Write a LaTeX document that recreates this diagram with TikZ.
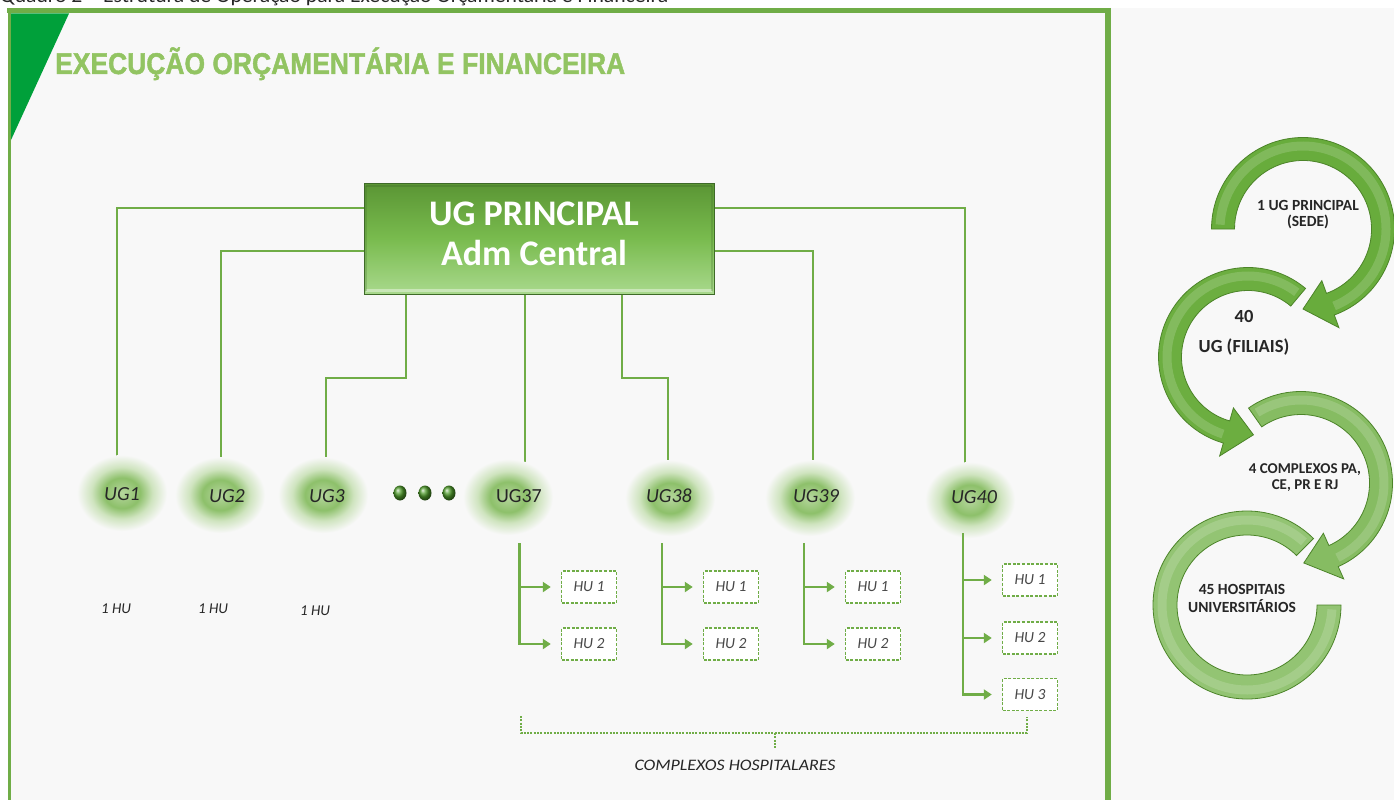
\documentclass[tikz,border=0pt]{standalone}
\usepackage{fontspec}
\setmainfont{Carlito}
\newfontfamily\titlefont[FakeBold=1.6]{Liberation Sans}
\usepackage{graphicx}
\usetikzlibrary{arrows.meta}
\definecolor{bgc}{HTML}{F8F8F8}
\definecolor{lg}{HTML}{70AD47}
\definecolor{trig}{HTML}{00A03A}
\definecolor{ttl}{HTML}{92C462}
\definecolor{txg}{HTML}{262626}
\definecolor{glowC}{HTML}{B6D69E}
\definecolor{glowM}{HTML}{8DC06A}
\definecolor{glowE}{HTML}{CFE4BF}
\definecolor{boxT}{HTML}{5A9534}
\definecolor{boxM}{HTML}{79BB4E}
\definecolor{boxB}{HTML}{A9D98D}
\definecolor{boxL}{HTML}{3E6A28}
\definecolor{dotg}{HTML}{4E9A2A}
\definecolor{arcA}{HTML}{68AC3C}
\definecolor{arcB}{HTML}{6CAE40}
\definecolor{arcC}{HTML}{86BC62}
\definecolor{arcD}{HTML}{93C473}
\definecolor{arcO}{HTML}{4C8429}
\pgfdeclareradialshading{glow}{\pgfpointorigin}{color(0bp)=(glowC); color(10bp)=(glowM); color(17bp)=(glowE); color(25bp)=(bgc); color(50bp)=(bgc)}
\begin{document}
\begin{tikzpicture}[x=1pt,y=-1pt,
  conn/.style={draw=lg, line width=2.8pt},
  arr/.style={draw=lg, line width=2.5pt, -{Triangle[length=8pt,width=10pt]}},
  dotline/.style={draw=lg, line width=2.6pt, dash pattern=on 2pt off 1.3pt},
  uglab/.style={anchor=base, inner sep=0, text=txg, font=\fontsize{20}{20}\selectfont\itshape},
  hulab/.style={anchor=base, inner sep=0, text=txg, font=\fontsize{15}{15}\selectfont\itshape},
  hubox/.style={draw=lg, fill=white, dash pattern=on 3pt off 1.6pt, line width=1.4pt, minimum width=55pt, minimum height=32pt, inner sep=0, text=txg!85!white, font=\fontsize{15.5}{15}\selectfont\itshape},
  mainbox/.style={draw=boxL, line width=1pt, top color=boxT, bottom color=boxB, middle color=boxM, minimum width=350pt, minimum height=111pt, inner sep=0},
  ringtxt/.style={align=center, inner sep=0, text=txg, font=\fontsize{15}{16}\selectfont\bfseries},
  ringout/.style={draw=arcO, line width=0.8pt},
  hilite/.style={draw=white, opacity=0.16, line width=9pt}
]
\useasboundingbox (0,0) rectangle (1394,800);
% background
\fill[bgc] (9,8) rectangle (1394,800);
% caption (cut off at top, as in the source)
\node[anchor=base west, inner sep=0, text=txg] (caption) at (0,3) {\resizebox{668pt}{\height}{\fontsize{20}{24}\selectfont Quadro 2 -- Estrutura de Operação para Execução Orçamentária e Financeira}};
% frame
\draw[lg, line width=3pt] (9.5,9) -- (9.5,800);
\draw[lg, line width=5pt] (7,11) -- (1110.5,11);
\draw[lg, line width=6pt] (1107.5,8) -- (1107.5,800);
\fill[trig] (11,13.5) -- (69,13.5) -- (11,140) -- cycle;
% title
\node[anchor=base west, inner sep=0, text=ttl] (title) at (55,74) {\resizebox{570pt}{\height}{\titlefont\bfseries\fontsize{30}{32}\selectfont EXECUÇÃO ORÇAMENTÁRIA E FINANCEIRA}};

% main box
\node[mainbox] (main) at (539,238.5) {};
\draw[white, opacity=0.4, line width=3pt] (366,290) -- (712,290);
\draw[boxL, opacity=0.35, line width=2.5pt] (366,186) -- (712,186);
\draw[boxL, opacity=0.25, line width=2.5pt] (366,186) -- (366,291);
\draw[boxL, opacity=0.25, line width=2.5pt] (712,186) -- (712,291);
\node[inner sep=0, text=white, align=center, font=\fontsize{36}{40}\selectfont\bfseries, anchor=base] (maintxt) at (534,265) {UG PRINCIPAL\\Adm Central};

% connector end points
\coordinate (c1) at (117,460);
\coordinate (c2) at (221,464);
\coordinate (c3) at (326,464);
\coordinate (c37) at (525,462);
\coordinate (c38) at (668,462);
\coordinate (c39) at (813,462);
\coordinate (c40) at (965,463);
\draw[conn] (main.west |- 0,208) -| (c1);
\draw[conn] (main.west |- 0,251) -| (c2);
\draw[conn] (main.south -| 406,0) -- (406,378) -| (c3);
\draw[conn] (main.south -| c37) -- (c37);
\draw[conn] (main.south -| 622,0) -- (622,378) -| (c38);
\draw[conn] (main.east |- 0,251) -| (c39);
\draw[conn] (main.east |- 0,208) -| (c40);

% glows
\foreach \gx/\gy in {122/493, 220/495, 323/495, 508/497, 670/498, 810/498, 970/500}
  \shade[shading=glow] (\gx,\gy) ellipse [x radius=45, y radius=38];

% UG labels
\node[uglab] (ug1) at (122,500) {UG1};
\node[uglab] (ug2) at (227,502) {UG2};
\node[uglab] (ug3) at (327,502) {UG3};
\node[uglab, font=\fontsize{20}{20}\selectfont] (ug37) at (519,502) {UG37};
\node[uglab] (ug38) at (669,502) {UG38};
\node[uglab] (ug39) at (816,502) {UG39};
\node[uglab] (ug40) at (974,503) {UG40};

% dots
\foreach \dx in {400,425,449}
  \shade[ball color=dotg] (\dx,493) ellipse [x radius=6.5, y radius=7.5];

% 1 HU
\node[hulab] (hu1) at (116,613) {1 HU};
\node[hulab] (hu2) at (213,613) {1 HU};
\node[hulab] (hu3) at (315,615) {1 HU};

% HU boxes
\node[hubox] (b37a) at (589,587) {HU 1};
\node[hubox] (b37b) at (589,644) {HU 2};
\node[hubox] (b38a) at (731,587) {HU 1};
\node[hubox] (b38b) at (731,644) {HU 2};
\node[hubox] (b39a) at (873,587) {HU 1};
\node[hubox] (b39b) at (873,644) {HU 2};
\node[hubox] (b40a) at (1030,580) {HU 1};
\node[hubox] (b40b) at (1030,638) {HU 2};
\node[hubox] (b40c) at (1030,694.5) {HU 3};

\coordinate (v37) at (519.5,543);
\coordinate (v38) at (662,543);
\coordinate (v39) at (804,543);
\coordinate (v40) at (963,533);
\draw[arr] (v37) |- ([xshift=-10pt]b37b.west);
\draw[arr] (v37 |- b37a) -- ([xshift=-10pt]b37a.west);
\draw[arr] (v38) |- ([xshift=-10pt]b38b.west);
\draw[arr] (v38 |- b38a) -- ([xshift=-10pt]b38a.west);
\draw[arr] (v39) |- ([xshift=-10pt]b39b.west);
\draw[arr] (v39 |- b39a) -- ([xshift=-10pt]b39a.west);
\draw[arr] (v40) |- ([xshift=-10pt]b40c.west);
\draw[arr] (v40 |- b40a) -- ([xshift=-10pt]b40a.west);
\draw[arr] (v40 |- b40b) -- ([xshift=-10pt]b40b.west);

% bracket
\coordinate (brL) at (521,716);
\coordinate (brR) at (1027,717);
\coordinate (brM) at (775,733);
\node[anchor=base, inner sep=0, text=txg] (cplx) at (735,770) {\resizebox{201pt}{\height}{\fontsize{16}{16}\selectfont\itshape COMPLEXOS HOSPITALARES}};
\draw[dotline] (brL) -- (521,733) -- (1027,733) -- (brR);
\draw[dotline] (brM) -- (775,749);

% right panel: circular arrows
% arc 4 (no head)
\begin{scope}[shift={(1247,605)}]
  \path[fill=arcD, ringout] (-45:94) arc[start angle=-45, end angle=-360, radius=94] -- (0:70) arc[start angle=-360, end angle=-45, radius=70] -- cycle;
  \draw[hilite] (-48:85) arc[start angle=-48, end angle=-357, radius=85];
\end{scope}
% arc 3
\begin{scope}[shift={(1301,483)}]
  \path[fill=arcC, ringout] (-125:91.5) arc[start angle=-125, end angle=66, radius=91.5] -- (66:105) -- (88:80) -- (66:55) -- (66:68.5) arc[start angle=66, end angle=-125, radius=68.5] -- cycle;
  \draw[hilite] (-122:83) arc[start angle=-122, end angle=64, radius=83];
\end{scope}
% arc 2
\begin{scope}[shift={(1248,357)}]
  \path[fill=arcB, ringout] (-50:89.5) arc[start angle=-50, end angle=-254, radius=89.5] -- (-254:103) -- (-274:78) -- (-254:53) -- (-254:66.5) arc[start angle=-254, end angle=-50, radius=66.5] -- cycle;
  \draw[hilite] (-53:81) arc[start angle=-53, end angle=-252, radius=81];
\end{scope}
% arc 1
\begin{scope}[shift={(1303,229)}]
  \path[fill=arcA, ringout] (180:91.5) arc[start angle=180, end angle=430, radius=91.5] -- (430:105) -- (450:80) -- (430:55) -- (430:68.5) arc[start angle=430, end angle=180, radius=68.5] -- cycle;
  \draw[hilite] (183:83) arc[start angle=183, end angle=428, radius=83];
\end{scope}

\node[ringtxt, font=\fontsize{15.5}{16}\selectfont\bfseries] (r1) at (1308,215) {1 UG PRINCIPAL\\(SEDE)};
\node[ringtxt, font=\fontsize{18.5}{30}\selectfont\bfseries] (r2) at (1244,333) {40\\UG (FILIAIS)};
\node[ringtxt] (r3) at (1305,478) {4 COMPLEXOS PA,\\CE, PR E RJ};
\node[ringtxt, font=\fontsize{15.5}{18}\selectfont\bfseries] (r4) at (1242,598) {45 HOSPITAIS\\UNIVERSITÁRIOS};
\end{tikzpicture}
\end{document}
